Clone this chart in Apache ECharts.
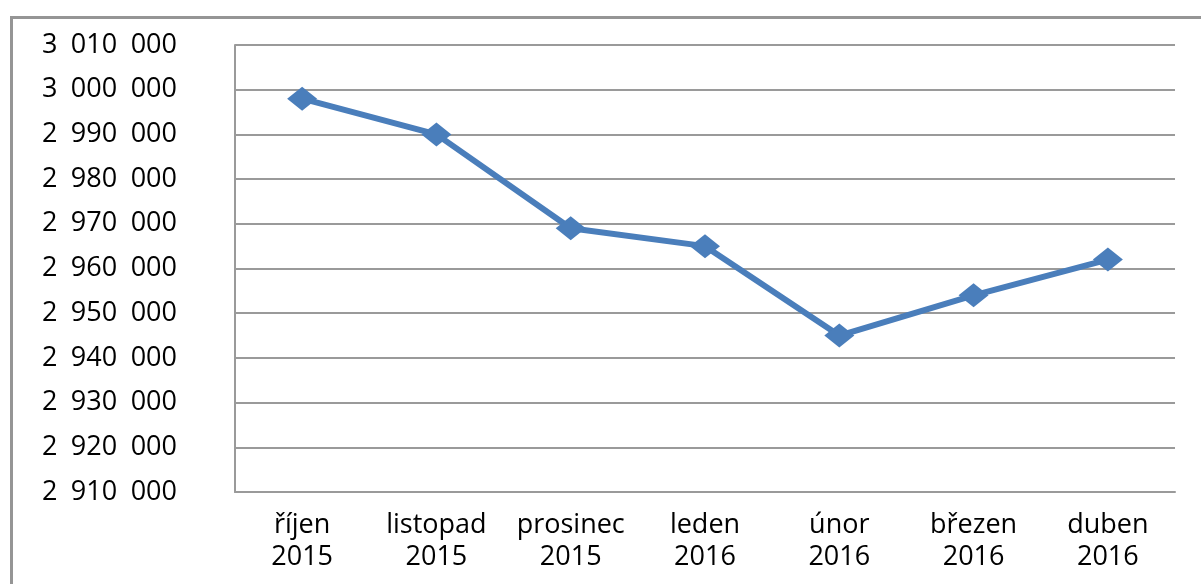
<!DOCTYPE html>
<html>
<head>
<meta charset="utf-8">
<script src="https://cdn.jsdelivr.net/npm/echarts@6/dist/echarts.min.js"></script>
<style>
html,body{margin:0;padding:0;background:#fff;}
#chart{width:1201px;height:584px;}
</style>
</head>
<body>
<div id="chart"></div>
<script>
const categories = ['říjen\n2015','listopad\n2015','prosinec\n2015','leden\n2016','únor\n2016','březen\n2016','duben\n2016'];
const values = [2998000, 2990000, 2969000, 2965000, 2945000, 2954000, 2962000];
const yMin = 2910000, yMax = 3010000, yStep = 10000;

function fmt(v){
  return String(Math.round(v)).replace(/\B(?=(\d{3})+(?!\d))/g, '\u2002');
}

const chart = echarts.init(document.getElementById('chart'));
chart.setOption({
  animation: false,
  backgroundColor: '#fff',
  graphic: [{
    type: 'rect', left: 9, top: 15,
    shape: {width: 1400, height: 800},
    style: {fill: 'none', stroke: '#959595', lineWidth: 3},
    silent: true
  }],
  grid: {left: 235, right: 26, top: 45, bottom: 92, containLabel: false},
  xAxis: {
    type: 'category', data: categories, boundaryGap: true,
    axisLine: {show: true, lineStyle: {color: '#9a9a9a', width: 2}},
    axisTick: {show: false},
    axisLabel: {color: '#000', fontFamily: 'Open Sans', fontSize: 27, lineHeight: 32, margin: 17, interval: 0}
  },
  yAxis: {
    type: 'value', min: yMin, max: yMax, interval: yStep,
    axisLine: {show: true, lineStyle: {color: '#9a9a9a', width: 2}},
    axisTick: {show: false},
    splitLine: {show: true, lineStyle: {color: '#9a9a9a', width: 2}},
    axisLabel: {color: '#000', fontFamily: 'Open Sans', fontSize: 27, margin: 58, formatter: fmt}
  },
  series: [{
    type: 'line', data: values,
    symbol: 'diamond', symbolSize: [30, 24],
    lineStyle: {color: '#4a7ebb', width: 6},
    itemStyle: {color: '#4a7ebb'}
  }]
});
</script>
</body>
</html>
